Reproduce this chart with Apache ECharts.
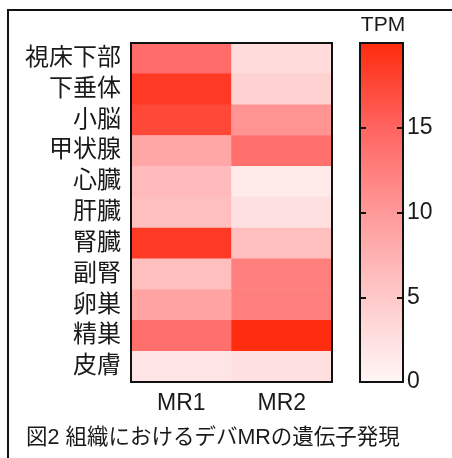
<!DOCTYPE html>
<html><head><meta charset="utf-8">
<script src="https://cdn.jsdelivr.net/npm/echarts@6/dist/echarts.min.js"></script>
<style>html,body{margin:0;padding:0;background:#fff}#c{width:452px;height:458px}</style>
</head><body><div id="c"></div>
<script>
const tissues = ['視床下部','下垂体','小脳','甲状腺','心臓','肝臓','腎臓','副腎','卵巣','精巣','皮膚'];
const samples = ['MR1','MR2'];
const mr1 = [14.2, 18.6, 17.4, 8.5, 6.5, 6.0, 18.6, 6.0, 9.0, 14.0, 2.0];
const mr2 = [3.0, 4.0, 10.5, 14.0, 1.5, 2.5, 6.0, 12.5, 12.5, 19.8, 2.5];
const colorTicks = [0, 5, 10, 15];
const scaleMin = 0, scaleMax = 20;
const caption = '図2 組織におけるデバMRの遺伝子発現';
const unit = 'TPM';

const FONT = "'Liberation Sans', 'Noto Sans CJK JP', sans-serif";
const stops = ['#fff7f7', '#ffc9c9', '#ff9999', '#ff6460', '#ff2a0c'];

const data = [];
tissues.forEach((t, i) => {
  data.push([0, i, mr1[i]]);
  data.push([1, i, mr2[i]]);
});

const gradient = new echarts.graphic.LinearGradient(0, 1, 0, 0,
  stops.map((c, i) => ({offset: i / (stops.length - 1), color: c})));

const barRect = {left: 360, top: 43, width: 43, height: 339};
const tickStyle = {show: true, inside: true, length: 6, lineStyle: {color: '#111', width: 2}};

const chart = echarts.init(document.getElementById('c'), null, {renderer: 'canvas'});
chart.setOption({
  animation: false,
  backgroundColor: '#fff',
  textStyle: {fontFamily: FONT, color: '#1a1a1a'},
  grid: [
    {left: 131, top: 43, width: 201, height: 339, show: true, z: 5,
     backgroundColor: 'transparent', borderColor: '#111', borderWidth: 2},
    Object.assign({show: true, z: 0, backgroundColor: gradient, borderColor: '#111', borderWidth: 2}, barRect),
    Object.assign({show: false, z: 0}, barRect)
  ],
  xAxis: [
    {type: 'category', data: samples, gridIndex: 0,
     axisLine: {show: false}, axisTick: {show: false}, splitLine: {show: false},
     axisLabel: {fontSize: 23, color: '#1a1a1a', fontFamily: FONT, margin: 10, interval: 0}},
    {type: 'value', gridIndex: 1, show: false, min: 0, max: 1},
    {type: 'value', gridIndex: 2, show: false, min: 0, max: 1}
  ],
  yAxis: [
    {type: 'category', data: tissues, gridIndex: 0, inverse: true,
     axisLine: {show: false}, axisTick: {show: false}, splitLine: {show: false},
     axisLabel: {fontSize: 24, color: '#1a1a1a', fontFamily: FONT, margin: 10, interval: 0}},
    {type: 'value', gridIndex: 1, position: 'right', min: scaleMin, max: scaleMax, interval: 5, z: 3,
     axisLine: {show: false, onZero: false}, splitLine: {show: false},
     axisTick: tickStyle,
     axisLabel: {show: true, fontSize: 23, color: '#1a1a1a', fontFamily: FONT, margin: 4,
       showMaxLabel: false,
       formatter: v => colorTicks.includes(v) ? String(v) : ''}},
    {type: 'value', gridIndex: 2, position: 'left', min: scaleMin, max: scaleMax, interval: 5, z: 3,
     axisLine: {show: false, onZero: false}, splitLine: {show: false},
     axisTick: tickStyle, axisLabel: {show: false}}
  ],
  visualMap: {
    type: 'continuous', min: scaleMin, max: scaleMax, seriesIndex: 0,
    show: false, inRange: {color: stops}
  },
  series: [{
    type: 'heatmap', xAxisIndex: 0, yAxisIndex: 0, data: data,
    itemStyle: {borderWidth: 0}, emphasis: {disabled: true}
  }],
  graphic: [
    {type: 'polyline', shape: {points: [[8, 470], [8, 10], [470, 10]]},
     style: {stroke: '#111', lineWidth: 2, fill: null}, silent: true},
    {type: 'text', x: 383, y: 25,
     style: {text: unit, font: '21px ' + FONT, fill: '#1a1a1a', textAlign: 'center', textVerticalAlign: 'middle'}},
    {type: 'text', x: 26, y: 438,
     style: {text: caption, font: '21.5px ' + FONT, fill: '#1a1a1a', textAlign: 'left', textVerticalAlign: 'middle'}}
  ]
});
</script>
</body></html>
